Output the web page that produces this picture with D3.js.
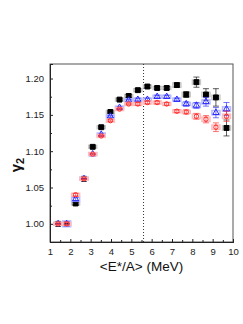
<!DOCTYPE html>
<html>
<head>
<meta charset="utf-8" />
<title>gamma2 vs E*/A</title>
<script src="https://d3js.org/d3.v7.min.js"></script>
<style>
  body { margin: 0; background: #fff; }
  text { font-family: "Liberation Sans", Arial, sans-serif; }
</style>
</head>
<body>
<svg id="chart" width="243" height="324"></svg>
<script>
// data
var energy = [1.40, 1.82, 2.26, 2.67, 3.10, 3.52, 3.97, 4.42, 4.87, 5.32, 5.79, 6.27, 6.74, 7.24, 7.70, 8.20, 8.67, 9.16, 9.68];

var blackVal = [1.000, 1.000, 1.028, 1.062, 1.106, 1.133, 1.154, 1.171, 1.176, 1.184, 1.189, 1.187, 1.187, 1.191, 1.178, 1.195, 1.178, 1.174, 1.132];
var blackErr = [0.001, 0.002, 0.002, 0.001, 0.001, 0.001, 0.001, 0.001, 0.002, 0.002, 0.002, 0.002, 0.002, 0.003, 0.004, 0.007, 0.008, 0.012, 0.011];
var blackSys = [0.002, 0.002, 0.002, 0.002, 0.002, 0.002, 0.002, 0.002, 0.002, 0.002, 0.002, 0.002, 0.002, 0.003, 0.003, 0.003, 0.003, 0.003, 0.003];

var blueVal = [1.000, 1.000, 1.034, 1.062, 1.096, 1.123, 1.148, 1.160, 1.170, 1.171, 1.171, 1.175, 1.175, 1.171, 1.165, 1.163, 1.168, 1.153, 1.158];
var blueErr = [0.001, 0.003, 0.002, 0.001, 0.001, 0.001, 0.001, 0.001, 0.001, 0.002, 0.002, 0.002, 0.002, 0.002, 0.003, 0.004, 0.006, 0.007, 0.009];
var blueSys = [0.002, 0.004, 0.003, 0.002, 0.002, 0.002, 0.002, 0.002, 0.002, 0.002, 0.002, 0.002, 0.002, 0.002, 0.002, 0.003, 0.003, 0.003, 0.003];

var redVal = [1.000, 1.000, 1.040, 1.062, 1.096, 1.121, 1.142, 1.158, 1.165, 1.165, 1.167, 1.167, 1.165, 1.155, 1.154, 1.148, 1.144, 1.133, 1.148];
var redErr = [0.001, 0.002, 0.002, 0.001, 0.001, 0.001, 0.001, 0.001, 0.001, 0.002, 0.002, 0.002, 0.002, 0.002, 0.003, 0.004, 0.005, 0.006, 0.007];
var redSys = [0.002, 0.002, 0.002, 0.002, 0.002, 0.002, 0.002, 0.002, 0.002, 0.002, 0.002, 0.002, 0.002, 0.002, 0.002, 0.003, 0.003, 0.003, 0.003];

var xTicks = [1, 2, 3, 4, 5, 6, 7, 8, 9, 10];
var yTicks = [1.00, 1.05, 1.10, 1.15, 1.20];
var cutLine = 5.6;

var svg = d3.select("#chart"),
    margin = { top: 64, right: 10, bottom: 82, left: 50 },
    width = +svg.attr("width") - margin.left - margin.right,
    height = +svg.attr("height") - margin.top - margin.bottom;

var scaleX = d3.scaleLinear().domain([1, 10]).range([0, width]),
    scaleY = d3.scaleLinear().domain([0.975, 1.22]).range([height, 0]);

var g = svg.append("g").attr("transform", "translate(" + margin.left + "," + margin.top + ")");

// frame
g.append("rect").attr("width", width).attr("height", height)
  .attr("fill", "none").attr("stroke", "#555").attr("stroke-width", 1);

// axes with inward ticks
var xAxis = d3.axisBottom(scaleX).tickValues(xTicks).tickSize(-3).tickPadding(6).tickFormat(d3.format("d"));
var xMinor = d3.axisBottom(scaleX).tickValues(d3.range(1.5, 10, 1)).tickSize(-2).tickFormat("");
var yAxis = d3.axisLeft(scaleY).tickValues(yTicks).tickSize(-3).tickPadding(6).tickFormat(d3.format(".2f"));
var yMinor = d3.axisLeft(scaleY).tickValues(d3.range(0.975, 1.22, 0.025).filter(function (v) {
    return Math.abs(Math.round(v * 20) - v * 20) > 0.1; })).tickSize(-2).tickFormat("");

function styleAxis(sel) {
  sel.select(".domain").attr("stroke", "#222");
  sel.selectAll(".tick line").attr("stroke", "#222");
  sel.selectAll("text").attr("font-size", 9.5).attr("fill", "#222");
}

g.append("g").attr("transform", "translate(0," + height + ")").call(xAxis).call(styleAxis);
g.append("g").attr("transform", "translate(0," + height + ")").call(xMinor).call(styleAxis);
g.append("g").call(yAxis).call(styleAxis);
g.append("g").call(yMinor).call(styleAxis);

// dotted line
g.append("line")
  .attr("x1", scaleX(cutLine)).attr("x2", scaleX(cutLine))
  .attr("y1", 0).attr("y2", height)
  .attr("stroke", "#333").attr("stroke-width", 1).attr("stroke-dasharray", "1,2");

// series
var series = [
  { vals: blackVal, err: blackErr, sys: blackSys, color: "#000", light: "#c8c8c8", shape: "square" },
  { vals: blueVal, err: blueErr, sys: blueSys, color: "#2a2aff", light: "#b8bcff", shape: "triangle" },
  { vals: redVal, err: redErr, sys: redSys, color: "#ff2a2a", light: "#ffbcbc", shape: "circle" }
];

series.forEach(function (s) {
  var pts = energy.map(function (e, i) { return { x: e, y: s.vals[i], err: s.err[i], sys: s.sys[i] }; });
  var grp = g.append("g");

  // systematic boxes
  grp.selectAll(".sys").data(pts).enter().append("rect")
    .attr("x", function (d) { return scaleX(d.x) - 4; })
    .attr("y", function (d) { return scaleY(d.y + d.sys); })
    .attr("width", 8)
    .attr("height", function (d) { return scaleY(d.y - d.sys) - scaleY(d.y + d.sys); })
    .attr("fill", "none").attr("stroke", s.light).attr("stroke-width", 1.5);

  // stat error bars
  grp.selectAll(".err").data(pts).enter().append("path")
    .attr("d", function (d) {
      var x = scaleX(d.x), y1 = scaleY(d.y + d.err), y2 = scaleY(d.y - d.err);
      return "M" + x + "," + y1 + "V" + y2 + "M" + (x - 3) + "," + y1 + "H" + (x + 3) + "M" + (x - 3) + "," + y2 + "H" + (x + 3);
    })
    .attr("stroke", s.color).attr("stroke-width", 0.8).attr("fill", "none").attr("opacity", 0.8);

  // markers
  var sym = s.shape === "square" ? d3.symbolSquare : (s.shape === "triangle" ? d3.symbolTriangle : d3.symbolCircle);
  var size = s.shape === "square" ? 24 : (s.shape === "triangle" ? 17 : 15);
  grp.selectAll(".pt").data(pts).enter().append("path")
    .attr("transform", function (d) { return "translate(" + scaleX(d.x) + "," + scaleY(d.y) + ")"; })
    .attr("d", d3.symbol().type(sym).size(size))
    .attr("fill", s.shape === "square" ? s.color : "none")
    .attr("stroke", s.color).attr("stroke-width", 1);
});

// axis titles
svg.append("text")
  .attr("x", margin.left + width / 2).attr("y", 271)
  .attr("text-anchor", "middle").attr("font-size", 13.5).attr("fill", "#111")
  .text("<E*/A> (MeV)");

var yt = svg.append("text")
  .attr("transform", "translate(21,165) rotate(-90)")
  .attr("text-anchor", "middle").attr("font-size", 15).attr("font-weight", "bold").attr("fill", "#111");
yt.append("tspan").text("γ");
yt.append("tspan").attr("font-size", 11).attr("dy", 3).text("2");
</script>
</body>
</html>
